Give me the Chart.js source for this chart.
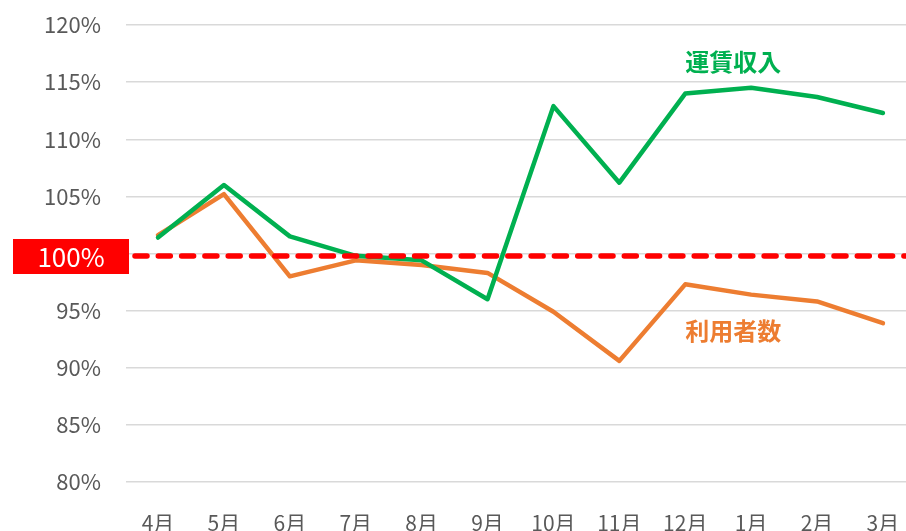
<!DOCTYPE html>
<html>
<head>
<meta charset="utf-8">
<script src="https://cdn.jsdelivr.net/npm/chart.js@4/dist/chart.umd.min.js"></script>
<style>
  html, body { margin: 0; padding: 0; background: #fff; }
  #wrap { width: 906px; height: 531px; }
</style>
</head>
<body>
<div id="wrap"><canvas id="chart" width="906" height="531"></canvas></div>
<script>
// data
const months = ['4月', '5月', '6月', '7月', '8月', '9月', '10月', '11月', '12月', '1月', '2月', '3月'];
const fareRevenue = [101.4, 106.0, 101.5, 99.8, 99.4, 96.0, 112.9, 106.2, 114.0, 114.5, 113.7, 112.3];
const ridership = [101.6, 105.2, 98.0, 99.4, 99.0, 98.3, 94.9, 90.6, 97.3, 96.4, 95.8, 93.9];
const yTicks = [80, 85, 90, 95, 100, 105, 110, 115, 120];
const baseline = 100;

const FONT = '"Noto Sans CJK JP", "Noto Sans", sans-serif';
const GREEN = '#00B050';
const ORANGE = '#ED7D31';

const toPoints = arr => arr.map((v, i) => ({ x: i, y: v }));

// red 100% line, its label box, and the series names
const refLine = {
  id: 'refLine',
  afterDatasetsDraw(chart) {
    const { ctx, chartArea, scales } = chart;
    const py = scales.y.getPixelForValue(baseline) + 2.5;
    ctx.save();
    ctx.strokeStyle = '#FF0000';
    ctx.lineWidth = 5.5;
    ctx.lineCap = 'round';
    ctx.setLineDash([12, 11.3]);
    ctx.beginPath();
    ctx.moveTo(chartArea.left + 9, py);
    ctx.lineTo(chartArea.right, py);
    ctx.stroke();
    ctx.setLineDash([]);

    ctx.fillStyle = '#FF0000';
    ctx.fillRect(13, py - 17, 116, 35);
    ctx.fillStyle = '#FFFFFF';
    ctx.font = '26px ' + FONT;
    ctx.textAlign = 'center';
    ctx.textBaseline = 'middle';
    ctx.fillText('100%', 71, py + 1);

    ctx.font = 'bold 24px ' + FONT;
    ctx.textAlign = 'left';
    const lx = scales.x.getPixelForValue(8);
    ctx.fillStyle = GREEN;
    ctx.fillText('運賃収入', lx, scales.y.getPixelForValue(116.8));
    ctx.fillStyle = ORANGE;
    ctx.fillText('利用者数', lx, scales.y.getPixelForValue(93.2));
    ctx.restore();
  }
};

new Chart(document.getElementById('chart'), {
  type: 'line',
  data: {
    datasets: [
      {
        label: '運賃収入',
        data: toPoints(fareRevenue),
        borderColor: GREEN,
        borderWidth: 4.5,
        pointRadius: 0,
        tension: 0,
        borderJoinStyle: 'round',
        borderCapStyle: 'round'
      },
      {
        label: '利用者数',
        data: toPoints(ridership),
        borderColor: ORANGE,
        borderWidth: 4.5,
        pointRadius: 0,
        tension: 0,
        borderJoinStyle: 'round',
        borderCapStyle: 'round'
      }
    ]
  },
  options: {
    responsive: false,
    animation: false,
    layout: { padding: { top: 25, right: 0, left: 0, bottom: 0 } },
    plugins: {
      legend: { display: false },
      tooltip: { enabled: false }
    },
    scales: {
      x: {
        type: 'linear',
        min: -0.486,
        max: 11.35,
        afterBuildTicks(scale) { scale.ticks = months.map((m, i) => ({ value: i })); },
        grid: { display: false, drawTicks: false },
        border: { display: false },
        ticks: {
          color: '#595959',
          font: { family: FONT, size: 21 },
          padding: 28,
          maxRotation: 0,
          autoSkip: false,
          callback: v => months[v]
        },
        afterFit(scale) {
          scale.height = 49;
          scale.paddingLeft = 0;
          scale.paddingRight = 0;
        }
      },
      y: {
        min: 80,
        max: 120,
        afterBuildTicks(scale) { scale.ticks = yTicks.map(v => ({ value: v })); },
        grid: { color: '#D9D9D9', lineWidth: 1.5, drawTicks: false },
        border: { display: false },
        ticks: {
          color: '#595959',
          font: { family: FONT, size: 22 },
          padding: 25,
          callback: v => (v === baseline ? '' : v + '%')
        },
        afterFit(scale) {
          scale.width = 126;
          scale.paddingTop = 0;
          scale.paddingBottom = 0;
        }
      }
    }
  },
  plugins: [refLine]
});
</script>
</body>
</html>
